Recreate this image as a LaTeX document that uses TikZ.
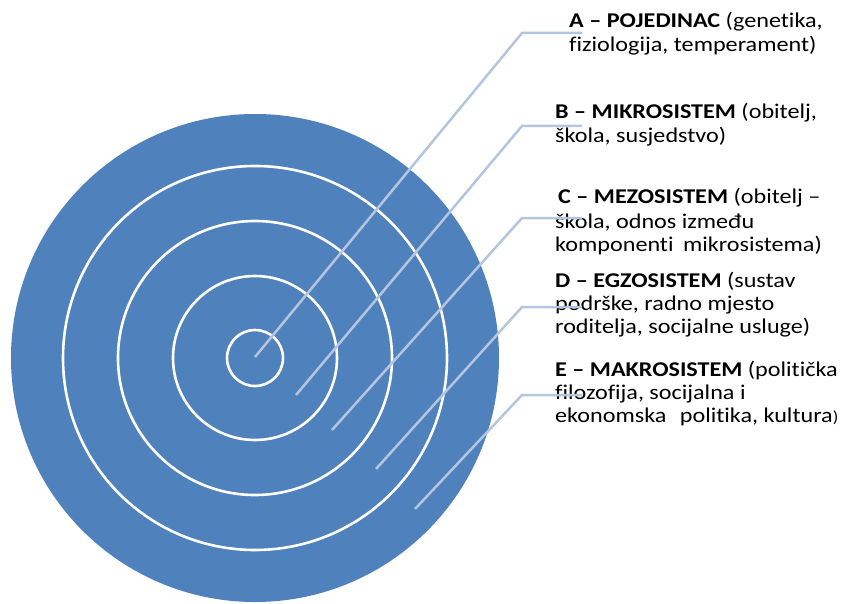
\documentclass[tikz,border=0pt]{standalone}
\usepackage{fontspec}
\setmainfont{Carlito}[Ligatures={NoCommon},FakeStretch=1.15]
\definecolor{disc}{HTML}{4F81BD}
\definecolor{leader}{HTML}{B4C5DF}
\begin{document}
\begin{tikzpicture}[x=1pt,y=-1pt,
  ring/.style={draw=white,line width=2.6pt},
  lead/.style={draw=leader,line width=2.5pt},
  lbl/.style={anchor=base west,inner sep=0pt,font=\fontsize{21}{24}\selectfont,text=black}]
\useasboundingbox (0,0) rectangle (848,604);
\coordinate (c) at (255,358);
\fill[disc] (c) circle (244);
\draw[ring] (c) circle (192);
\draw[ring] (c) circle (137);
\draw[ring] (c) circle (82);
\draw[ring] (c) circle (28);
% labels
\node[lbl] (a1) at (569,28) {\textbf{A – POJEDINAC} (genetika,};
\node[lbl] (a2) at (569,52) {fiziologija, temperament)};
\node[lbl] (b1) at (555,119) {\textbf{B – MIKROSISTEM} (obitelj,};
\node[lbl] (b2) at (555,143) {škola, susjedstvo)};
\node[lbl] (c1) at (558,204) {\textbf{C – MEZOSISTEM} (obitelj –};
\node[lbl] (c2) at (555,228) {škola, odnos između};
\node[lbl] (c3) at (555,251) {komponenti\hspace{4pt} mikrosistema)};
\node[lbl] (d1) at (555,287) {\textbf{D – EGZOSISTEM} (sustav};
\node[lbl] (d2) at (555,310) {podrške, radno mjesto};
\node[lbl] (d3) at (555,333) {roditelja, socijalne usluge)};
\node[lbl] (e1) at (555,376) {\textbf{E – MAKROSISTEM} (politička};
\node[lbl] (e2) at (555,399) {filozofija, socijalna i};
\node[lbl] (e3) at (555,422) {ekonomska\hspace{8pt} politika, kultura{\fontsize{16}{18}\selectfont)}};
% leader lines
\coordinate (pa) at (255,357);
\coordinate (ka) at (522,33);
\coordinate (ta) at (582,33);
\coordinate (pb) at (296,395);
\coordinate (kb) at (522,126);
\coordinate (tb) at (582,126);
\coordinate (pc) at (332,430);
\coordinate (kc) at (522,218);
\coordinate (tc) at (582,218);
\coordinate (pd) at (376,469);
\coordinate (kd) at (522,307);
\coordinate (td) at (582,307);
\coordinate (pe) at (415,509);
\coordinate (ke) at (522,395);
\coordinate (te) at (582,395);
\draw[lead] (pa) -- (ka) -- (ta);
\draw[lead] (pb) -- (kb) -- (tb);
\draw[lead] (pc) -- (kc) -- (tc);
\draw[lead] (pd) -- (kd) -- (td);
\draw[lead] (pe) -- (ke) -- (te);
\end{tikzpicture}
\end{document}
